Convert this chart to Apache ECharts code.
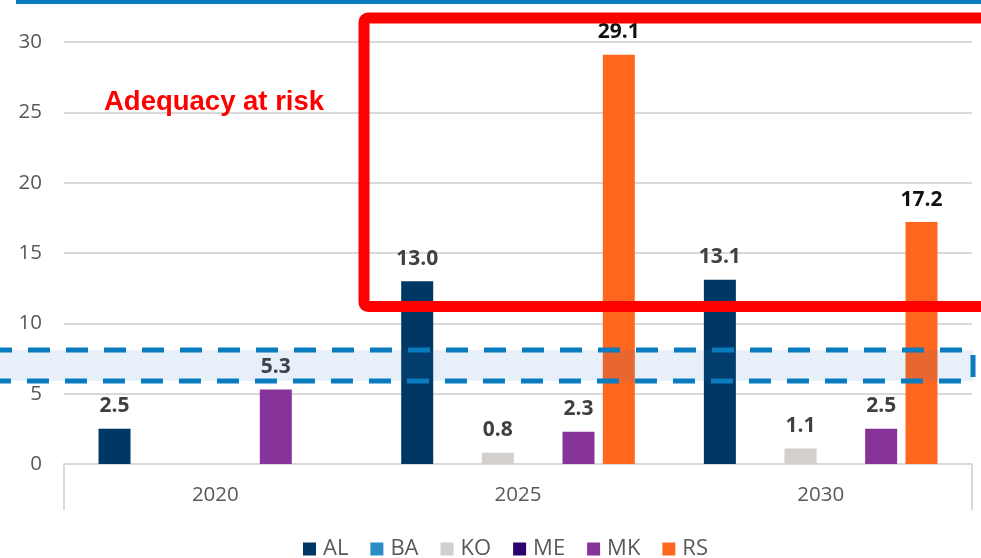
<!DOCTYPE html>
<html>
<head>
<meta charset="utf-8">
<script src="https://cdn.jsdelivr.net/npm/echarts@6/dist/echarts.min.js"></script>
<style>
  html, body { margin: 0; padding: 0; background: #ffffff; }
  #chart { width: 981px; height: 558px; }
</style>
</head>
<body>
<div id="chart"></div>
<script>
// Categories and series values
const years = ['2020', '2025', '2030'];
const countries = ['AL', 'BA', 'KO', 'ME', 'MK', 'RS'];
const AL = [2.5, 13.0, 13.1];
const BA = [null, null, null];
const KO = [null, 0.8, 1.1];
const ME = [null, null, null];
const MK = [5.3, 2.3, 2.5];
const RS = [null, 29.1, 17.2];
const yTicks = [0, 5, 10, 15, 20, 25, 30];

// Annotation ranges (in axis units)
const thresholdBand = [5.9, 8.1];
const riskBox = [11.2, 31.7];
const riskLabel = 'Adequacy at risk';

const seriesValues = { AL, BA, KO, ME, MK, RS };
const colors = {
  AL: '#003865', BA: '#2a8dc5', KO: '#d3cfcc',
  ME: '#2d006e', MK: '#87349a', RS: '#ff671f'
};

const baseFont = '"Open Sans", "Noto Sans", sans-serif';

const chart = echarts.init(document.getElementById('chart'), null, { renderer: 'canvas' });

const series = countries.map(name => ({
  name,
  type: 'bar',
  data: seriesValues[name],
  barWidth: 32,
  barGap: '26%',
  itemStyle: { color: colors[name] },
  label: {
    show: true,
    position: 'top',
    distance: 12,
    fontFamily: baseFont,
    fontWeight: 'bold',
    fontSize: 21,
    color: name === 'RS' ? '#111111' : '#404040',
    formatter: p => (p.value == null ? '' : Number(p.value).toFixed(1))
  },
  z: 2
}));

chart.setOption({
  animation: false,
  color: countries.map(c => colors[c]),
  grid: { left: 64, right: 9, top: 42, bottom: 94, containLabel: false },
  legend: {
    data: countries,
    icon: 'rect',
    itemWidth: 13,
    itemHeight: 13,
    itemGap: 22,
    left: 303,
    top: 538,
    padding: 0,
    textStyle: { fontFamily: baseFont, fontSize: 22, color: '#595959', padding: [0, 0, 0, 2] }
  },
  xAxis: {
    type: 'category',
    data: years,
    boundaryGap: true,
    axisLine: { show: true, lineStyle: { color: '#d9d9d9', width: 2 } },
    axisTick: {
      show: true,
      interval: i => i === 0,
      length: 46,
      lineStyle: { color: '#d9d9d9', width: 2 }
    },
    axisLabel: { fontFamily: baseFont, fontSize: 20.5, color: '#595959', margin: 21 }
  },
  yAxis: {
    type: 'value',
    min: yTicks[0],
    max: yTicks[yTicks.length - 1],
    interval: yTicks[1] - yTicks[0],
    axisLine: { show: false },
    axisTick: { show: false },
    splitLine: { lineStyle: { color: '#d9d9d9', width: 2 } },
    axisLabel: { fontFamily: baseFont, fontSize: 20.5, color: '#595959', margin: 22 }
  },
  series
});

// Overlay annotations placed through the value axis
const yPx = v => chart.convertToPixel({ yAxisIndex: 0 }, v);
const bandTop = yPx(thresholdBand[1]);
const bandBottom = yPx(thresholdBand[0]);
const boxTop = yPx(riskBox[1]);
const boxBottom = yPx(riskBox[0]);

chart.setOption({
  graphic: [
    {
      type: 'rect',
      shape: { x: 16, y: 0, width: 970, height: 4 },
      style: { fill: '#0a7abf' },
      z: 10
    },
    {
      type: 'rect',
      shape: { x: -10, y: bandTop, width: 983, height: bandBottom - bandTop },
      style: {
        fill: 'rgba(20, 112, 192, 0.1)',
        stroke: '#0a7bbf',
        lineWidth: 5,
        lineDash: [22, 16]
      },
      z: 20
    },
    {
      type: 'rect',
      shape: { x: 364, y: boxTop, width: 720, height: boxBottom - boxTop, r: 4 },
      style: { fill: 'none', stroke: '#ff0000', lineWidth: 11 },
      z: 21
    },
    {
      type: 'text',
      left: 104,
      top: 88,
      style: {
        text: riskLabel,
        fill: '#ff0000',
        font: 'bold 27.5px "Liberation Sans", Arial, sans-serif'
      },
      z: 22
    }
  ]
});
</script>
</body>
</html>
